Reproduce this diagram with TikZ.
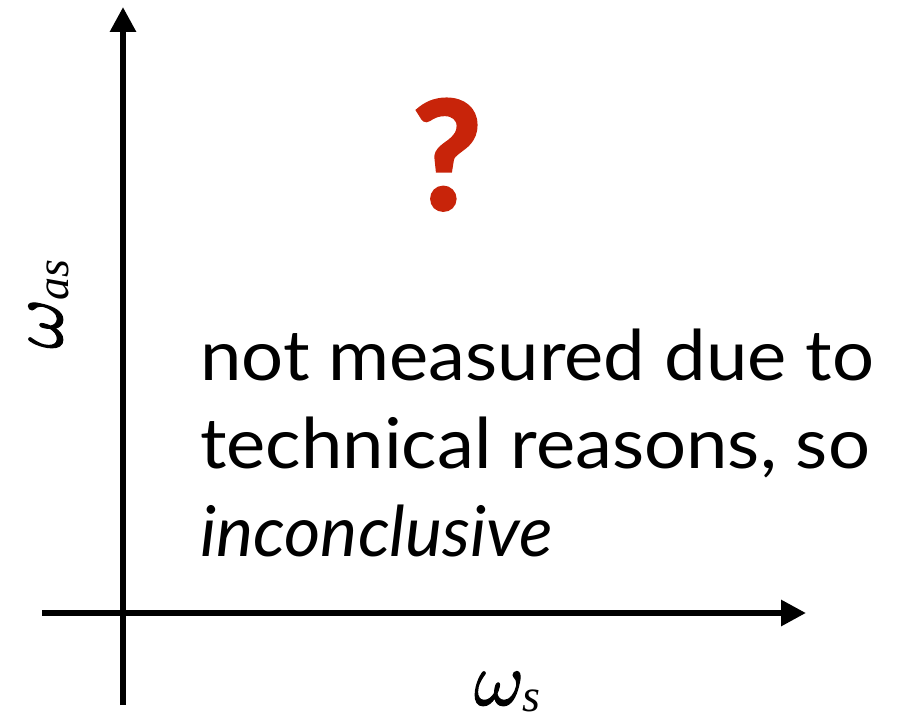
\documentclass[tikz,border=0pt]{standalone}
\usepackage{fontspec}
\setmainfont{Lato}[FakeStretch=1.06,ItalicFeatures={FakeStretch=1.0}]
\newfontfamily\tms{Liberation Serif}
\newfontfamily\lmm{latinmodern-math.otf}[FakeBold=1.5]
\newfontfamily\qfont{Lato}[BoldFeatures={FakeBold=2.5}]
\usetikzlibrary{arrows.meta}
\definecolor{qred}{RGB}{200,36,10}
\tikzset{
  axis/.style={line width=6pt,-{Triangle[length=25pt,width=25pt]}},
  body/.style={anchor=base west,inner sep=0pt,font=\fontsize{70}{80}\selectfont},
  omlab/.style={inner sep=0pt,font=\fontsize{76}{80}\selectfont}
}
\newcommand{\omg}{{\lmm 𝜔}}
\newcommand{\subtxt}[1]{\raisebox{-6pt}{\tms\itshape\fontsize{46}{46}\selectfont #1}}
\begin{document}
\begin{tikzpicture}[x=1pt,y=-1pt]
\path[use as bounding box] (0,0) rectangle (902,717);
\coordinate (yb) at (123,705);
\coordinate (yt) at (123,7);
\coordinate (xl) at (42,613);
\coordinate (xr) at (806,613);
\draw[axis] (yb) -- (yt);
\draw[axis] (xl) -- (xr);
\node[anchor=base,inner sep=0pt,text=qred,font=\qfont\bfseries\fontsize{150}{150}\selectfont] (q) at (447,209) {?};
\node[body] (l1) at (200,380) {not measured due to};
\node[body] (l2) at (200,468) {technical reasons, so};
\node[body] (l3) at (200,556) {\itshape inconclusive};
\node[omlab,anchor=base west] (ws) at (474,705) {\omg\kern1pt\subtxt{s}};
\node[omlab,anchor=base west,rotate=90] (was) at (62,349) {\omg\kern1pt\subtxt{as}};
\end{tikzpicture}
\end{document}
